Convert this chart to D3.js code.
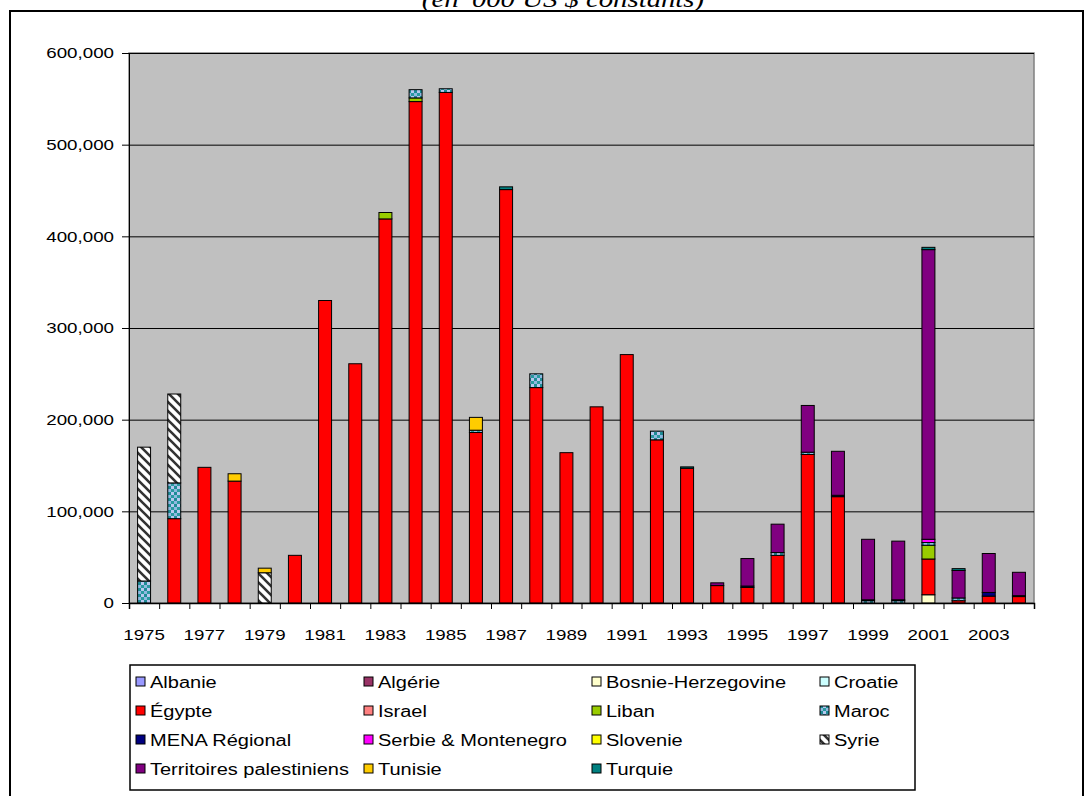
<!DOCTYPE html>
<html>
<head>
<meta charset="utf-8">
<script src="https://cdn.jsdelivr.net/npm/d3@7"></script>
<style>
  body { margin: 0; background: #fff; }
  svg { display: block; }
  text { font-family: "Liberation Sans", Arial, sans-serif; fill: #000; }
</style>
</head>
<body>
<div id="chart"></div>
<script>
// Data (in '000 US $ constants)
const years = d3.range(1975, 2005);

const albanie   = Array(30).fill(0);
const algerie   = Array(30).fill(0);
const bosnie    = [0,0,0,0,0, 0,0,0,0,0, 0,0,0,0,0, 0,0,0,0,0, 0,0,0,0,0, 0,9000,0,0,0];
const croatie   = Array(30).fill(0);
const egypte    = [0,92000,148000,133000,0, 52000,330000,261000,419000,547000,
                   557000,186000,451000,235000,164000, 214000,271000,178000,147000,19000,
                   17000,52000,162000,116000,0, 0,39000,2500,7500,7000];
const israel    = Array(30).fill(0);
const liban     = [0,0,0,0,0, 0,0,0,7000,4000, 0,0,0,0,0, 0,0,0,0,0, 0,0,0,0,0, 0,15000,0,0,0];
const maroc     = [24000,39000,0,0,0, 0,0,0,0,9000, 4000,2500,0,15000,0, 0,0,9500,0,0,
                   0,3000,2500,0,2500, 2500,3000,3000,0,0];
const mena      = [0,0,0,0,0, 0,0,0,0,0, 0,0,0,0,0, 0,0,0,0,0, 1500,0,0,1500,1000, 1000,0,0,4000,1000];
const serbie    = [0,0,0,0,0, 0,0,0,0,0, 0,0,0,0,0, 0,0,0,0,0, 0,0,0,0,0, 0,3500,0,0,0];
const slovenie  = Array(30).fill(0);
const syrie     = [146000,97000,0,0,33000, 0,0,0,0,0, 0,0,0,0,0, 0,0,0,0,0, 0,0,0,0,0, 0,0,0,0,0];
const territoires = [0,0,0,0,0, 0,0,0,0,0, 0,0,0,0,0, 0,0,0,0,3000,
                     30000,31000,51000,48000,66000, 64000,316000,30000,42500,25500];
const tunisie   = [0,0,0,8000,5000, 0,0,0,0,0, 0,14000,0,0,0, 0,0,0,0,0, 0,0,0,0,0, 0,0,0,0,0];
const turquie   = [0,0,0,0,0, 0,0,0,0,0, 0,0,3000,0,0, 0,0,0,1500,0, 0,0,0,0,0, 0,2500,2000,0,0];

const seriesNames = ["Albanie", "Algérie", "Bosnie-Herzegovine", "Croatie", "Égypte", "Israel",
  "Liban", "Maroc", "MENA Régional", "Serbie & Montenegro", "Slovenie", "Syrie",
  "Territoires palestiniens", "Tunisie", "Turquie"];
const seriesValues = [albanie, algerie, bosnie, croatie, egypte, israel, liban, maroc,
  mena, serbie, slovenie, syrie, territoires, tunisie, turquie];
const seriesFills = ["#9999FF", "#993366", "#FFFFCC", "#CCFFFF", "#FF0000", "#FF8080",
  "#99CC00", "url(#pat-maroc)", "#000080", "#FF00FF", "#FFFF00", "url(#pat-syrie)",
  "#800080", "#FFCC00", "#008080"];

const yTicks = [0, 100000, 200000, 300000, 400000, 500000, 600000];

// Layout
const W = 1087, H = 796;
const plot = {left: 129, right: 1034, top: 53, bottom: 603};
const stretch = 1.25;  // text in the source is horizontally stretched

const svg = d3.select("#chart").append("svg")
  .attr("width", W).attr("height", H);

// patterns
const defs = svg.append("defs");
const pm = defs.append("pattern").attr("id", "pat-maroc")
  .attr("patternUnits", "userSpaceOnUse").attr("width", 6).attr("height", 6);
pm.append("rect").attr("width", 6).attr("height", 6).attr("fill", "#8FB8E0");
pm.append("rect").attr("x", 0).attr("y", 0).attr("width", 3).attr("height", 3).attr("fill", "#1E8C96");
pm.append("rect").attr("x", 3).attr("y", 3).attr("width", 3).attr("height", 3).attr("fill", "#2A9AA0");
pm.append("rect").attr("x", 3).attr("y", 0).attr("width", 3).attr("height", 3).attr("fill", "#B8C8F0");

const ps = defs.append("pattern").attr("id", "pat-syrie")
  .attr("patternUnits", "userSpaceOnUse").attr("width", 9).attr("height", 9);
ps.append("rect").attr("width", 9).attr("height", 9).attr("fill", "#fff");
ps.append("path").attr("d", "M-2,-2L11,11M-2,7L2,11M7,-2L11,2")
  .attr("stroke", "#333").attr("stroke-width", 2.6);

// outer frame + title
svg.append("rect")
  .attr("x", 10).attr("y", 11).attr("width", 1073).attr("height", H)
  .attr("fill", "none").attr("stroke", "#000").attr("stroke-width", 2);

svg.append("text")
  .attr("x", 563 / stretch).attr("y", 7)
  .attr("transform", `scale(${stretch},1)`)
  .attr("text-anchor", "middle")
  .style("font-family", "'Liberation Serif', 'Times New Roman', serif")
  .style("font-style", "italic")
  .style("font-size", "23px")
  .text("(en '000 US $ constants)");

// Scales
const x = d3.scaleBand()
  .domain(years)
  .range([plot.left, plot.right])
  .paddingInner(0.57)
  .paddingOuter(0.285);

const xEdge = d3.scaleLinear()
  .domain([0, years.length])
  .range([plot.left, plot.right]);

const y = d3.scaleLinear()
  .domain([0, 600000])
  .range([plot.bottom, plot.top]);

// plot area
svg.append("rect")
  .attr("x", plot.left).attr("y", plot.top)
  .attr("width", plot.right - plot.left).attr("height", plot.bottom - plot.top)
  .attr("fill", "#C0C0C0").attr("stroke", "#808080").attr("stroke-width", 1.5);

// gridlines
svg.append("g")
  .attr("transform", `translate(${plot.left},0)`)
  .call(d3.axisLeft(y).tickValues(yTicks.slice(1)).tickSize(-(plot.right - plot.left)).tickFormat(""))
  .call(g => g.select(".domain").remove())
  .call(g => g.selectAll(".tick line").attr("stroke", "#000"));

// Bars
const table = years.map((yr, i) => {
  const row = {year: yr};
  seriesNames.forEach((s, k) => row[s] = seriesValues[k][i]);
  return row;
});
const stacked = d3.stack().keys(seriesNames)(table);

svg.append("g").selectAll("g")
  .data(stacked)
  .join("g")
    .attr("fill", (d, i) => seriesFills[i])
  .selectAll("rect")
  .data(d => d.filter(p => p[1] - p[0] > 0))
  .join("rect")
    .attr("x", d => x(d.data.year))
    .attr("y", d => y(d[1]))
    .attr("width", x.bandwidth())
    .attr("height", d => y(d[0]) - y(d[1]))
    .attr("stroke", "#000")
    .attr("stroke-width", 1);

// Axes
const yAxis = svg.append("g")
  .attr("transform", `translate(${plot.left},0)`)
  .call(d3.axisLeft(y).tickValues(yTicks).tickSize(7).tickFormat(d3.format(",")));
yAxis.select(".domain").attr("stroke", "#000");
yAxis.selectAll(".tick text")
  .attr("x", -15 / stretch)
  .attr("transform", `scale(${stretch},1)`)
  .style("font-size", "15px");

const xAxis = svg.append("g")
  .attr("transform", `translate(0,${plot.bottom})`)
  .call(d3.axisBottom(xEdge).tickValues(d3.range(0, years.length + 1)).tickSize(6).tickFormat(""));
xAxis.select(".domain").attr("stroke", "#000").attr("stroke-width", 1.5);

const xLabels = svg.append("g")
  .attr("transform", `translate(0,${plot.bottom})`)
  .call(d3.axisBottom(x).tickValues(years.filter((d, i) => i % 2 === 0)).tickSize(0).tickPadding(0));
xLabels.select(".domain").remove();
xLabels.selectAll(".tick text")
  .attr("y", 37).attr("dy", null)
  .attr("transform", `scale(${stretch},1)`)
  .style("font-size", "15px")
  .each(function() {
    const tick = d3.select(this.parentNode);
    const tx = +tick.attr("transform").match(/translate\(([-\d.]+)/)[1];
    tick.attr("transform", `translate(0,0)`);
    d3.select(this).attr("x", tx / stretch);
  });

// Legend
const legend = {left: 130, top: 665, right: 915, bottom: 790};
svg.append("rect")
  .attr("x", legend.left).attr("y", legend.top)
  .attr("width", legend.right - legend.left).attr("height", legend.bottom - legend.top)
  .attr("fill", "#fff").attr("stroke", "#000").attr("stroke-width", 1.5);

const colX = [136, 364, 592, 820];
const rowY = [682, 711, 740, 769];

const item = svg.append("g").selectAll("g")
  .data(seriesNames)
  .join("g")
    .attr("transform", (d, i) => `translate(${colX[i % 4]},${rowY[Math.floor(i / 4)]})`);

item.append("rect")
  .attr("x", 0).attr("y", -5)
  .attr("width", 9).attr("height", 9)
  .attr("fill", (d, i) => seriesFills[i])
  .attr("stroke", "#000").attr("stroke-width", 1);

item.append("text")
  .attr("x", 14 / stretch).attr("y", 6)
  .attr("transform", `scale(${stretch},1)`)
  .style("font-size", "16px")
  .text(d => d);
</script>
</body>
</html>
